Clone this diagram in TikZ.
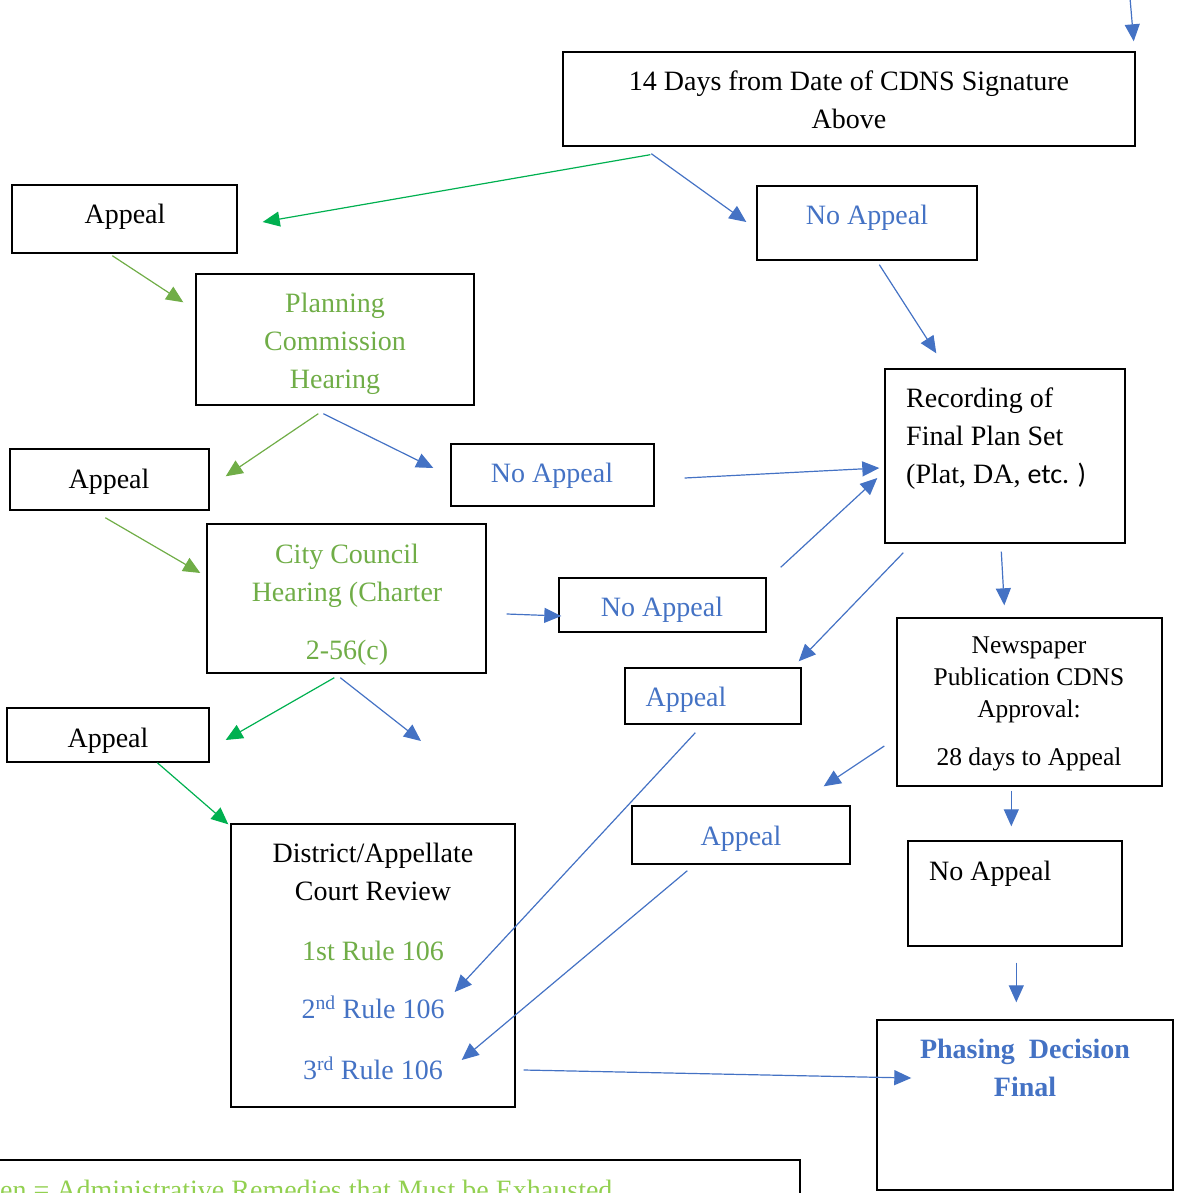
\documentclass[tikz,border=0pt]{standalone}
\usepackage{fontspec}
\setmainfont{Liberation Serif}
\newfontfamily\calib{Carlito}
\usetikzlibrary{arrows.meta,calc}
\definecolor{tgreen}{HTML}{70AD47}
\definecolor{tblue}{HTML}{4472C4}
\definecolor{agreen}{HTML}{00B050}
\definecolor{lgreen}{HTML}{92D050}
\begin{document}
\begin{tikzpicture}[x=1pt,y=-1pt,
  box/.style={draw=black, line width=1.4pt, inner sep=0pt},
  txt/.style={inner sep=0pt, align=center, font=\fontsize{28pt}{38pt}\selectfont},
  smalltxt/.style={inner sep=0pt, align=center, font=\fontsize{25.5pt}{32pt}\selectfont},
  arr/.style={-{Triangle[length=17pt,width=15pt]}, line width=1.2pt}]
\useasboundingbox (0,0) rectangle (1177,1193);
\clip (0,0) rectangle (1177,1193);

% boxes
\node[box, minimum width=572pt, minimum height=94pt] (days) at (849,99) {};
\node[box, minimum width=225pt, minimum height=68pt] (app1) at (124.5,219) {};
\node[box, minimum width=220pt, minimum height=74pt] (noapp1) at (867,223) {};
\node[box, minimum width=278pt, minimum height=131pt] (plan) at (335,339.5) {};
\node[box, minimum width=199pt, minimum height=61pt] (app2) at (109.5,479.5) {};
\node[box, minimum width=203pt, minimum height=62pt] (noapp2) at (552.5,475) {};
\node[box, minimum width=240pt, minimum height=174pt] (rec) at (1005,456) {};
\node[box, minimum width=279pt, minimum height=149pt] (city) at (346.5,598.5) {};
\node[box, minimum width=207pt, minimum height=54pt] (noapp3) at (662.5,605) {};
\node[box, minimum width=176pt, minimum height=56pt] (appb1) at (713,696) {};
\node[box, minimum width=265pt, minimum height=168pt] (news) at (1029.5,702) {};
\node[box, minimum width=202pt, minimum height=54pt] (app3) at (108,735) {};
\node[box, minimum width=218pt, minimum height=58pt] (appb2) at (741,835) {};
\node[box, minimum width=214pt, minimum height=105pt] (noappk) at (1015,893.5) {};
\node[box, minimum width=284pt, minimum height=283pt] (dist) at (373,965.5) {};
\node[box, minimum width=296pt, minimum height=170pt] (phase) at (1025,1105) {};
\node[box, minimum width=830pt, minimum height=80pt] (legend) at (385,1200) {};

% texts
\node[txt, anchor=north] (daysT) at (849,71) {14 Days from Date of CDNS Signature\\Above};
\node[txt, anchor=base] (app1T) at (125,223) {Appeal};
\node[txt, anchor=base, text=tblue] (noapp1T) at (867,224) {No Appeal};
\node[txt, anchor=north, text=tgreen] (planT) at (335,293) {Planning\\Commission\\Hearing};
\node[txt, anchor=base] (app2T) at (109,488) {Appeal};
\node[txt, anchor=base, text=tblue] (noapp2T) at (552,482) {No Appeal};
\node[txt, anchor=north west, align=left] (recT) at (906,388) {Recording of\\Final Plan Set\\(Plat, DA, {\calib etc. )}};
\node[txt, anchor=north, text=tgreen] (cityT) at (347,544) {City Council\\Hearing (Charter\\[20pt]2-56(c)};
\node[txt, anchor=base, text=tblue] (noapp3T) at (662,616) {No Appeal};
\node[txt, anchor=base, text=tblue] (appb1T) at (686,706) {Appeal};
\node[smalltxt, anchor=north] (newsT) at (1029,637) {Newspaper\\Publication CDNS\\Approval:\\[16pt]28 days to Appeal};
\node[txt, anchor=base] (app3T) at (108,747) {Appeal};
\node[txt, anchor=base, text=tblue] (appb2T) at (741,845) {Appeal};
\node[txt, anchor=base west] (noappkT) at (929,880) {No Appeal};
\node[txt, anchor=north] (distT) at (373,843) {District/Appellate\\Court Review\\[22pt]\textcolor{tgreen}{1st Rule 106}\\[20pt]\textcolor{tblue}{2\textsuperscript{nd} Rule 106}\\[23pt]\textcolor{tblue}{3\textsuperscript{rd} Rule 106}};
\node[txt, anchor=north, text=tblue, font=\fontsize{28pt}{38pt}\selectfont\bfseries] (phaseT) at (1025,1039) {Phasing\ \ Decision\\Final};
\node[txt, anchor=base west, text=lgreen] (legendT) at (-42,1199) {Green = Administrative Remedies that Must be Exhausted};

% arrows
\coordinate (topin) at (1130,-2);
\draw[arr,tblue] (topin) -- ([shift={(-2,-10)}]days.north east);
\draw[arr,agreen] ([shift={(88,8)}]days.south west) -- ([shift={(25,3)}]app1.east);
\draw[arr,tblue] ([shift={(89,7)}]days.south west) -- ([shift={(-10,-1)}]noapp1.west);
\draw[arr,tblue] ([shift={(123,4)}]noapp1.south west) -- ([shift={(52,-15)}]rec.north west);
\draw[arr,tgreen] ([shift={(101,2)}]app1.south west) -- ([shift={(-12,29)}]plan.north west);
\draw[arr,tgreen] ([shift={(123,8)}]plan.south west) -- ([shift={(16,28)}]app2.north east);
\draw[arr,tblue] ([shift={(128,8)}]plan.south west) -- ([shift={(-17,-7)}]noapp2.west);
\draw[arr,tblue] ([shift={(30,3)}]noapp2.east) -- ([shift={(-5,12)}]rec.west);
\draw[arr,tblue] ([shift={(14,-10)}]noapp3.north east) -- ([shift={(-7,22)}]rec.west);
\draw[arr,tgreen] ([shift={(96,7)}]app2.south west) -- ([shift={(-6,-25.5)}]city.west);
\draw[arr,tblue] ([shift={(20,15.5)}]city.east) -- ([shift={(3,11)}]noapp3.west);
\draw[arr,agreen] ([shift={(128,4)}]city.south west) -- ([shift={(16,5)}]app3.east);
\coordinate (free) at (421,741);
\draw[arr,tblue] ([shift={(134,4)}]city.south west) -- (free);
\draw[arr,agreen] ([shift={(151,0)}]app3.south west) -- ([shift={(-2,1)}]dist.north west);
\draw[arr,tblue] ([shift={(19,9)}]rec.south west) -- ([shift={(-3,-6)}]appb1.north east);
\draw[arr,tblue] ([shift={(117,8)}]rec.south west) -- ([shift={(108,-12)}]news.north west);
\draw[arr,tblue] ([shift={(-12,44)}]news.west) -- ([shift={(-27,-19)}]appb2.north east);
\draw[arr,tblue] ([shift={(115,4)}]news.south west) -- ([shift={(104,-14)}]noappk.north west);
\draw[arr,tblue] ([shift={(109,16)}]noappk.south west) -- ([shift={(140,-17)}]phase.north west);
\draw[arr,tblue] ([shift={(71,8)}]appb1.south west) -- ([shift={(-61,26.5)}]dist.east);
\draw[arr,tblue] ([shift={(56,6)}]appb2.south west) -- ([shift={(-54,94.5)}]dist.east);
\draw[arr,tblue] ([shift={(8,104.5)}]dist.east) -- ([shift={(35,-27)}]phase.west);
\end{tikzpicture}
\end{document}
